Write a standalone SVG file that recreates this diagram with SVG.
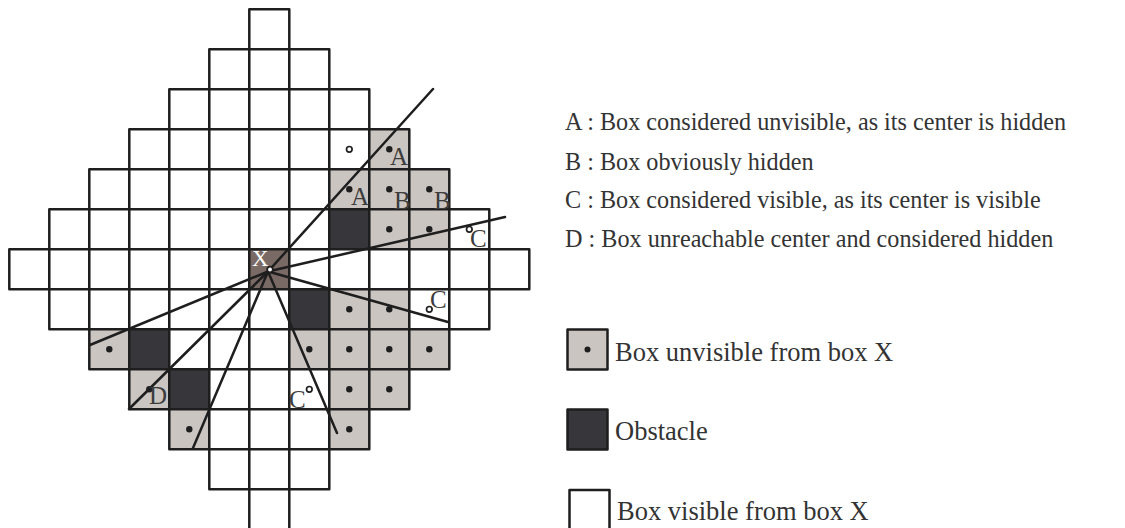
<svg xmlns="http://www.w3.org/2000/svg" width="1125" height="528" viewBox="0 0 1125 528">
<style>
rect{stroke:#1e1e1e;stroke-width:2.5;stroke-linejoin:round}
.w{fill:#fff}.g{fill:#cbc5c2}.o{fill:#37363a}.x{fill:#7a6a65}
.dot{fill:#1e1e1e}
.hol{fill:#fff;stroke:#1e1e1e;stroke-width:1.7}
.ln{stroke:#1e1e1e;stroke-width:2.5;fill:none;stroke-linecap:round}
.lb{font-family:"Liberation Serif","Times New Roman",serif;font-size:25px;fill:#3c3c3c}
.lg{font-family:"Liberation Serif","Times New Roman",serif;font-size:24.2px;fill:#333}
.lk{font-family:"Liberation Serif","Times New Roman",serif;font-size:26.5px;fill:#333}
</style>
<g id="grid">
<rect class="w" x="249.3" y="9.3" width="40" height="40"/>
<rect class="w" x="209.3" y="49.3" width="40" height="40"/><rect class="w" x="249.3" y="49.3" width="40" height="40"/><rect class="w" x="289.3" y="49.3" width="40" height="40"/>
<rect class="w" x="169.3" y="89.3" width="40" height="40"/><rect class="w" x="209.3" y="89.3" width="40" height="40"/><rect class="w" x="249.3" y="89.3" width="40" height="40"/><rect class="w" x="289.3" y="89.3" width="40" height="40"/><rect class="w" x="329.3" y="89.3" width="40" height="40"/>
<rect class="w" x="129.3" y="129.3" width="40" height="40"/><rect class="w" x="169.3" y="129.3" width="40" height="40"/><rect class="w" x="209.3" y="129.3" width="40" height="40"/><rect class="w" x="249.3" y="129.3" width="40" height="40"/><rect class="w" x="289.3" y="129.3" width="40" height="40"/><rect class="w" x="329.3" y="129.3" width="40" height="40"/><rect class="g" x="369.3" y="129.3" width="40" height="40"/>
<rect class="w" x="89.3" y="169.3" width="40" height="40"/><rect class="w" x="129.3" y="169.3" width="40" height="40"/><rect class="w" x="169.3" y="169.3" width="40" height="40"/><rect class="w" x="209.3" y="169.3" width="40" height="40"/><rect class="w" x="249.3" y="169.3" width="40" height="40"/><rect class="w" x="289.3" y="169.3" width="40" height="40"/><rect class="g" x="329.3" y="169.3" width="40" height="40"/><rect class="g" x="369.3" y="169.3" width="40" height="40"/><rect class="g" x="409.3" y="169.3" width="40" height="40"/>
<rect class="w" x="49.3" y="209.3" width="40" height="40"/><rect class="w" x="89.3" y="209.3" width="40" height="40"/><rect class="w" x="129.3" y="209.3" width="40" height="40"/><rect class="w" x="169.3" y="209.3" width="40" height="40"/><rect class="w" x="209.3" y="209.3" width="40" height="40"/><rect class="w" x="249.3" y="209.3" width="40" height="40"/><rect class="w" x="289.3" y="209.3" width="40" height="40"/><rect class="o" x="329.3" y="209.3" width="40" height="40"/><rect class="g" x="369.3" y="209.3" width="40" height="40"/><rect class="g" x="409.3" y="209.3" width="40" height="40"/><rect class="w" x="449.3" y="209.3" width="40" height="40"/>
<rect class="w" x="9.3" y="249.3" width="40" height="40"/><rect class="w" x="49.3" y="249.3" width="40" height="40"/><rect class="w" x="89.3" y="249.3" width="40" height="40"/><rect class="w" x="129.3" y="249.3" width="40" height="40"/><rect class="w" x="169.3" y="249.3" width="40" height="40"/><rect class="w" x="209.3" y="249.3" width="40" height="40"/><rect class="x" x="249.3" y="249.3" width="40" height="40"/><rect class="w" x="289.3" y="249.3" width="40" height="40"/><rect class="w" x="329.3" y="249.3" width="40" height="40"/><rect class="w" x="369.3" y="249.3" width="40" height="40"/><rect class="w" x="409.3" y="249.3" width="40" height="40"/><rect class="w" x="449.3" y="249.3" width="40" height="40"/><rect class="w" x="489.3" y="249.3" width="40" height="40"/>
<rect class="w" x="49.3" y="289.3" width="40" height="40"/><rect class="w" x="89.3" y="289.3" width="40" height="40"/><rect class="w" x="129.3" y="289.3" width="40" height="40"/><rect class="w" x="169.3" y="289.3" width="40" height="40"/><rect class="w" x="209.3" y="289.3" width="40" height="40"/><rect class="w" x="249.3" y="289.3" width="40" height="40"/><rect class="o" x="289.3" y="289.3" width="40" height="40"/><rect class="g" x="329.3" y="289.3" width="40" height="40"/><rect class="g" x="369.3" y="289.3" width="40" height="40"/><rect class="w" x="409.3" y="289.3" width="40" height="40"/><rect class="w" x="449.3" y="289.3" width="40" height="40"/>
<rect class="g" x="89.3" y="329.3" width="40" height="40"/><rect class="o" x="129.3" y="329.3" width="40" height="40"/><rect class="w" x="169.3" y="329.3" width="40" height="40"/><rect class="w" x="209.3" y="329.3" width="40" height="40"/><rect class="w" x="249.3" y="329.3" width="40" height="40"/><rect class="g" x="289.3" y="329.3" width="40" height="40"/><rect class="g" x="329.3" y="329.3" width="40" height="40"/><rect class="g" x="369.3" y="329.3" width="40" height="40"/><rect class="g" x="409.3" y="329.3" width="40" height="40"/>
<rect class="g" x="129.3" y="369.3" width="40" height="40"/><rect class="o" x="169.3" y="369.3" width="40" height="40"/><rect class="w" x="209.3" y="369.3" width="40" height="40"/><rect class="w" x="249.3" y="369.3" width="40" height="40"/><rect class="w" x="289.3" y="369.3" width="40" height="40"/><rect class="g" x="329.3" y="369.3" width="40" height="40"/><rect class="g" x="369.3" y="369.3" width="40" height="40"/>
<rect class="g" x="169.3" y="409.3" width="40" height="40"/><rect class="w" x="209.3" y="409.3" width="40" height="40"/><rect class="w" x="249.3" y="409.3" width="40" height="40"/><rect class="w" x="289.3" y="409.3" width="40" height="40"/><rect class="g" x="329.3" y="409.3" width="40" height="40"/>
<rect class="w" x="209.3" y="449.3" width="40" height="40"/><rect class="w" x="249.3" y="449.3" width="40" height="40"/><rect class="w" x="289.3" y="449.3" width="40" height="40"/>
<rect class="w" x="249.3" y="489.3" width="40" height="40"/>
</g>
<g id="dots">
<circle class="dot" cx="389.3" cy="149.3" r="3.2"/>
<circle class="dot" cx="349.3" cy="189.3" r="3.2"/><circle class="dot" cx="389.3" cy="189.3" r="3.2"/><circle class="dot" cx="429.3" cy="189.3" r="3.2"/>
<circle class="dot" cx="389.3" cy="229.3" r="3.2"/><circle class="dot" cx="429.3" cy="229.3" r="3.2"/>
<circle class="dot" cx="349.3" cy="309.3" r="3.2"/><circle class="dot" cx="389.3" cy="309.3" r="3.2"/>
<circle class="dot" cx="109.3" cy="349.3" r="3.2"/><circle class="dot" cx="309.3" cy="349.3" r="3.2"/><circle class="dot" cx="349.3" cy="349.3" r="3.2"/><circle class="dot" cx="389.3" cy="349.3" r="3.2"/><circle class="dot" cx="429.3" cy="349.3" r="3.2"/>
<circle class="dot" cx="149.3" cy="389.3" r="3.2"/><circle class="dot" cx="349.3" cy="389.3" r="3.2"/><circle class="dot" cx="389.3" cy="389.3" r="3.2"/>
<circle class="dot" cx="189.3" cy="429.3" r="3.2"/><circle class="dot" cx="349.3" cy="429.3" r="3.2"/>
</g>
<g id="connectors">
<line class="ln" x1="268" y1="271.5" x2="433" y2="89"/>
<line class="ln" x1="268" y1="271.5" x2="505" y2="217"/>
<line class="ln" x1="268" y1="271.5" x2="448" y2="322"/>
<line class="ln" x1="268" y1="271.5" x2="90" y2="345"/>
<line class="ln" x1="268" y1="271.5" x2="129" y2="409"/>
<line class="ln" x1="268" y1="271.5" x2="193" y2="448"/>
<line class="ln" x1="268" y1="271.5" x2="337" y2="433"/>
</g>
<g id="centers">
<circle class="hol" cx="349.3" cy="149.3" r="2.8"/>
<circle class="hol" cx="469.3" cy="229.3" r="2.8"/>
<circle class="hol" cx="429.3" cy="309.3" r="2.8"/>
<circle class="hol" cx="309.3" cy="389.3" r="2.8"/>
<circle class="hol" cx="270" cy="269.5" r="2.8"/>
</g>
<g id="labels">
<text class="lb" x="252" y="266" style="fill:#fff;font-size:23px">X</text>
<text class="lb" x="390" y="165">A</text>
<text class="lb" x="351" y="205">A</text>
<text class="lb" x="394" y="208.5">B</text>
<text class="lb" x="434" y="208.5">B</text>
<text class="lb" x="470" y="247">C</text>
<text class="lb" x="430" y="308">C</text>
<text class="lb" x="289" y="408">C</text>
<text class="lb" x="149" y="404">D</text>
</g>
<g id="legend">
<text class="lg" x="565" y="130">A : Box considered unvisible, as its center is hidden</text>
<text class="lg" x="565" y="169.5">B : Box obviously hidden</text>
<text class="lg" x="565" y="208">C : Box considered visible, as its center is visible</text>
<text class="lg" x="565" y="247">D : Box unreachable center and considered hidden</text>
<g id="legend-unvisible"><rect class="g" x="567.5" y="329.5" width="40" height="40"/><circle class="dot" cx="587.5" cy="349.5" r="3"/><text class="lk" x="615" y="361">Box unvisible from box X</text></g>
<g id="legend-obstacle"><rect class="o" x="567.5" y="409.5" width="40" height="40"/><text class="lk" x="615" y="440">Obstacle</text></g>
<g id="legend-visible"><rect class="w" x="569.5" y="490" width="40" height="40"/><text class="lk" x="617" y="520">Box visible from box X</text></g>
</g>
</svg>
